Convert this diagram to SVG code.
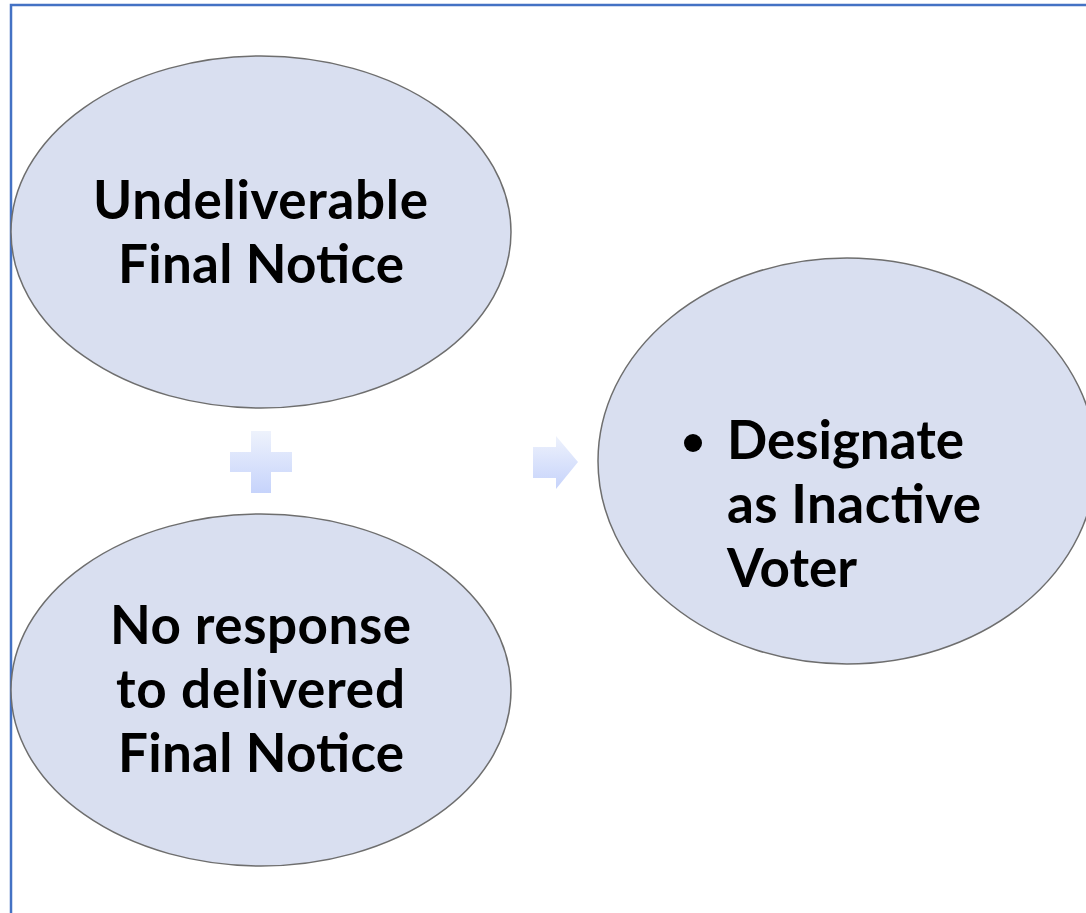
<svg xmlns="http://www.w3.org/2000/svg" width="1086" height="913" viewBox="0 0 1086 913">
<defs>
<style>
.node{fill:#d9dff0;stroke:#6e6e6e;stroke-width:1.5}
.lbl{font-family:Lato,"Open Sans","Liberation Sans",sans-serif;font-weight:bold;font-size:53px;fill:#000}
</style>
<linearGradient id="g" x1="0" y1="0" x2="0" y2="1">
<stop offset="0" stop-color="#eef2fc"/>
<stop offset="1" stop-color="#c6d3fb"/>
</linearGradient>
</defs>
<rect width="1086" height="913" fill="#fff"/>
<path d="M11,913 L11,5 L1086,5" fill="none" stroke="#4472c4" stroke-width="2.5"/>
<g id="n1">
<ellipse class="node" cx="261" cy="232" rx="250" ry="176"/>
<text class="lbl" lengthAdjust="spacing"><tspan x="93" y="219" textLength="335">Undeliverable</tspan><tspan x="118" y="283" textLength="286">Final Notice</tspan></text>
</g>
<g id="n2">
<ellipse class="node" cx="261" cy="690" rx="250" ry="176"/>
<text class="lbl"><tspan x="110" y="644" textLength="301">No response</tspan><tspan x="116" y="708" textLength="289">to delivered</tspan><tspan x="118" y="772" textLength="286">Final Notice</tspan></text>
</g>
<g id="n3">
<ellipse class="node" cx="847" cy="461" rx="249" ry="203"/>
<circle cx="693" cy="443" r="9" fill="#000"/>
<text class="lbl"><tspan x="727" y="459" textLength="237">Designate</tspan><tspan x="727" y="523" textLength="254">as Inactive</tspan><tspan x="727" y="587" textLength="130">Voter</tspan></text>
</g>
<g id="connectors">
<path d="M251,431 H271 V452 H292 V472 H271 V493 H251 V472 H230 V452 H251 Z" fill="url(#g)"/>
<path d="M533,447 H556 V436 L578,462 L556,489 V478 H533 Z" fill="url(#g)"/>
</g>
</svg>
